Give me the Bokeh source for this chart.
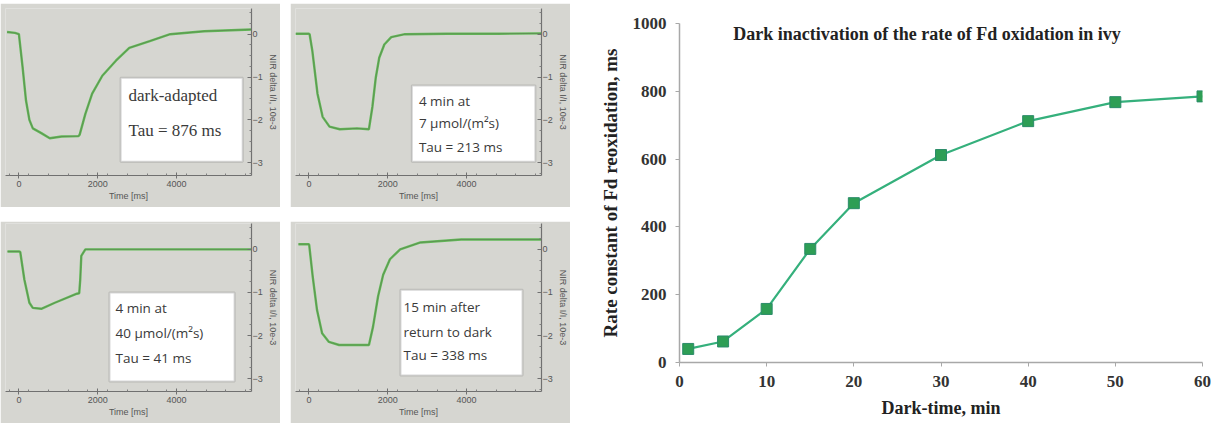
from bokeh.plotting import figure
from bokeh.models import Range1d, Label, BoxAnnotation, Spacer, FixedTicker
from bokeh.layouts import row, column
from bokeh.embed import file_html
from bokeh.resources import INLINE

# ---------------- data: left panels (time in ms, signal in 10e-3) ----------------
p1_time = [-300, -100, 0, 95, 180, 266, 353, 568, 783, 1084, 1514, 1540, 1686, 1858, 2116, 2460, 2800, 3320, 3837, 4700, 5900]
p1_sig = [0.05, 0.03, 0.0, -0.78, -1.55, -2.0, -2.2, -2.31, -2.43, -2.39, -2.38, -2.35, -1.86, -1.39, -0.97, -0.62, -0.32, -0.16, 0.0, 0.07, 0.11]

p2_time = [-340, 0, 18, 87, 218, 348, 522, 783, 1218, 1522, 1610, 1697, 1784, 1913, 2088, 2436, 3500, 4800, 6000]
p2_sig = [0.01, 0.01, 0.0, -0.39, -1.39, -1.93, -2.16, -2.22, -2.20, -2.22, -1.70, -1.01, -0.55, -0.24, -0.07, 0.0, 0.01, 0.01, 0.02]

p3_time = [-290, 0, 34, 138, 266, 352, 568, 912, 1471, 1530, 1556, 1583, 1686, 2500, 4000, 6000]
p3_sig = [-0.05, -0.05, -0.06, -0.70, -1.24, -1.36, -1.38, -1.24, -1.03, -1.02, -0.70, -0.15, 0.0, 0.0, 0.0, 0.0]

p4_time = [-266, 0, 8, 95, 206, 335, 508, 766, 1282, 1523, 1626, 1755, 1884, 2056, 2315, 2830, 3863, 5927]
p4_sig = [0.12, 0.12, 0.1, -0.62, -1.41, -1.95, -2.15, -2.22, -2.22, -2.22, -1.80, -1.09, -0.59, -0.23, 0.0, 0.16, 0.23, 0.23]

time_ticks = [0, 2000, 4000]
sig_ticks = [0, -1, -2, -3]

p1_text = ["dark-adapted", "Tau = 876 ms"]
p2_text = ["4 min at", "7 \u00b5mol/(m\u00b2s)", "Tau = 213 ms"]
p3_text = ["4 min at", "40 \u00b5mol/(m\u00b2s)", "Tau = 41 ms"]
p4_text = ["15 min after", "return to dark", "Tau = 338 ms"]

# ---------------- data: right chart ----------------
dark_time = [1, 5, 10, 15, 20, 30, 40, 50, 60]
rate_const = [40, 62, 158, 335, 470, 612, 712, 768, 785]
x_ticks = [0, 10, 20, 30, 40, 50, 60]
y_ticks = [0, 200, 400, 600, 800, 1000]

GREY = "#d6d6d1"
TRACE = "#62bb58"


def panel(t, s, box, lines, font, size, tx, ty_list, height, top):
    p = figure(width=280, height=height, x_range=Range1d(-340, 5900), y_range=Range1d(-3.3, 0.6),
               y_axis_location="right", output_backend="svg", toolbar_location=None,
               min_border_left=5, min_border_top=top, min_border_right=0, min_border_bottom=32)
    p.background_fill_color = GREY
    p.border_fill_color = GREY
    p.outline_line_color = None
    p.grid.visible = False
    p.xaxis.ticker = FixedTicker(ticks=time_ticks, minor_ticks=list(range(-250, 6001, 500)))
    p.yaxis.ticker = FixedTicker(ticks=sig_ticks, minor_ticks=[0.5, 0.25, -0.25, -0.5, -0.75, -1.25, -1.5, -1.75,
                                                                -2.25, -2.5, -2.75, -3.25])
    for ax in (p.xaxis[0], p.yaxis[0]):
        ax.axis_line_color = "#707070"
        ax.axis_line_width = 1.2
        ax.major_tick_line_color = "#707070"
        ax.minor_tick_line_color = "#808080"
        ax.major_label_text_font = "Liberation Sans"
        ax.major_label_text_font_size = "9px"
        ax.major_label_text_color = "#555555"
        ax.axis_label_text_font = "Liberation Sans"
        ax.axis_label_text_font_size = "9px"
        ax.axis_label_text_font_style = "normal"
        ax.axis_label_text_color = "#555555"
    p.xaxis.major_tick_in = 3
    p.xaxis.major_tick_out = 3
    p.xaxis.minor_tick_in = 2
    p.xaxis.minor_tick_out = 0
    p.xaxis.major_label_standoff = 2
    p.xaxis.axis_label_standoff = 1
    p.xaxis.axis_label = "Time [ms]"
    p.yaxis.major_tick_in = 4
    p.yaxis.major_tick_out = 0
    p.yaxis.minor_tick_in = 2
    p.yaxis.minor_tick_out = 0
    p.yaxis.major_label_standoff = 1
    p.yaxis.axis_label_standoff = 2
    p.yaxis.axis_label = "NIR delta I/I, 10e-3"

    p.line(t, s, line_color=TRACE, line_width=2.4)
    p.line(t, s, line_color="#5a5a4a", line_width=1, line_alpha=0.4)

    p.add_layout(BoxAnnotation(left=box[0], right=box[1], top=box[2], bottom=box[3],
                               fill_color="white", fill_alpha=1.0, line_color="#7c7c7c", line_width=2,
                               level="overlay"))
    for txt, ty in zip(lines, ty_list):
        p.add_layout(Label(x=tx, y=ty, text=txt, text_font=font, text_font_size=size,
                           text_color="#3a3a3a", text_baseline="middle", level="overlay"))
    return p


p1 = panel(p1_time, p1_sig, (2580, 5677, -1.02, -2.98), p1_text, "Liberation Serif", "17px", 2780, [-1.43, -2.25], 204, 5)
p2 = panel(p2_time, p2_sig, (2611, 5744, -1.2, -2.98), p2_text, "Open Sans", "13.5px", 2790, [-1.55, -2.08, -2.63], 204, 5)
p3 = panel(p3_time, p3_sig, (2297, 5471, -1.0, -3.07), p3_text, "Open Sans", "13.5px", 2450, [-1.36, -1.94, -2.53], 202, 2)
p4 = panel(p4_time, p4_sig, (2323, 5419, -0.94, -2.93), p4_text, "Open Sans", "13.5px", 2400, [-1.33, -1.92, -2.46], 202, 2)

# ---------------- right chart ----------------
p5 = figure(width=621, height=420, x_range=Range1d(0, 60), y_range=Range1d(0, 1000),
            output_backend="svg", toolbar_location=None,
            min_border_left=88, min_border_top=23, min_border_right=10, min_border_bottom=57)
p5.background_fill_color = "white"
p5.border_fill_color = "white"
p5.outline_line_color = None
p5.grid.visible = False
p5.xaxis.ticker = FixedTicker(ticks=x_ticks)
p5.yaxis.ticker = FixedTicker(ticks=y_ticks)
for ax in (p5.xaxis[0], p5.yaxis[0]):
    ax.axis_line_color = "#a8a8a8"
    ax.axis_line_width = 1.5
    ax.major_tick_line_color = "#a8a8a8"
    ax.minor_tick_line_color = None
    ax.major_tick_in = 0
    ax.major_tick_out = 4
    ax.major_label_text_font = "Liberation Serif"
    ax.major_label_text_font_size = "17px"
    ax.major_label_text_font_style = "bold"
    ax.major_label_text_color = "#333333"
    ax.axis_label_text_font = "Liberation Serif"
    ax.axis_label_text_font_style = "bold"
    ax.axis_label_text_color = "#222222"
p5.xaxis.major_label_standoff = 9
p5.xaxis.axis_label_standoff = 8
p5.xaxis.axis_label_text_font_size = "18px"
p5.xaxis.axis_label = "Dark-time, min"
p5.yaxis.major_label_standoff = 9
p5.yaxis.axis_label_standoff = 9
p5.yaxis.axis_label_text_font_size = "19px"
p5.yaxis.axis_label = "Rate constant of Fd reoxidation, ms"

p5.line(dark_time, rate_const, line_color="#35b07c", line_width=2.2)
p5.scatter(dark_time, rate_const, marker="square", size=11, fill_color="#2e9e55", line_color="#2b8c6a", line_width=1)
p5.add_layout(Label(x=28.4, y=970, text="Dark inactivation of the rate of Fd oxidation in ivy",
                    text_font="Liberation Serif", text_font_size="18px", text_font_style="bold",
                    text_color="#222222", text_align="center", text_baseline="middle"))

left = column(Spacer(height=3), row(p1, Spacer(width=10), p2), Spacer(height=14), row(p3, Spacer(width=10), p4))
layout = row(left, Spacer(width=21), p5)

open("out.html", "w").write(file_html(layout, INLINE))
